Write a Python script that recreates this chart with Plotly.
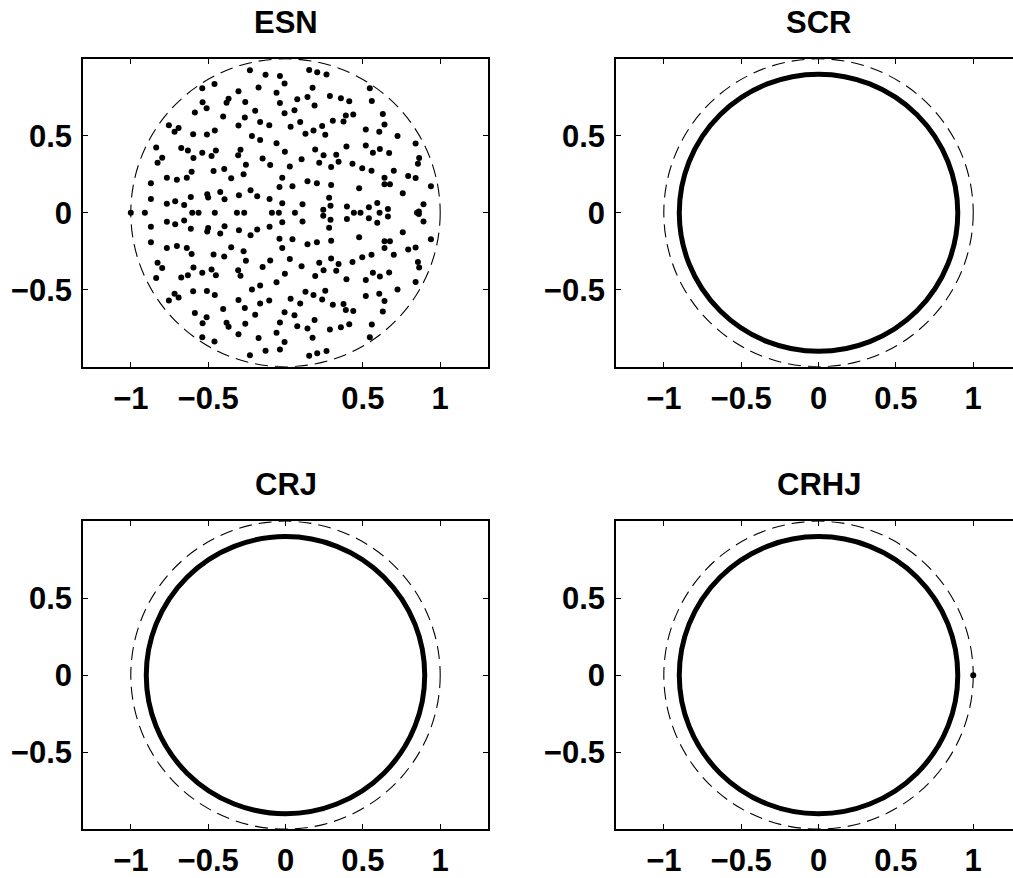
import plotly.graph_objects as go

# ---------------- data ----------------
titles = ["ESN", "SCR", "CRJ", "CRHJ"]

# ESN eigenvalues, upper half-plane (imag > 0); the lower half are the complex conjugates
esn_re_upper = [-0.23, -0.129, -0.036, -0.006, 0.153, 0.205, 0.265, -0.174, 0.175, -0.459,
                -0.538, 0.545, -0.304, -0.058, 0.142, 0.076, 0.287, 0.358, 0.412, -0.036,
                0.558, -0.536, -0.510, -0.381, -0.368, -0.260, 0.188, 0.058, -0.196, -0.006,
                0.629, -0.586, -0.403, -0.263, 0.390, 0.438, 0.095, -0.164, 0.306, 0.375,
                -0.754, -0.717, -0.691, -0.304, -0.105, 0.033, 0.237, 0.181, 0.129, 0.257,
                -0.457, -0.597, -0.508, -0.217, -0.164, -0.058, 0.519, 0.606, 0.640, 0.724,
                -0.836, -0.797, -0.827, -0.674, -0.631, -0.595, -0.538, -0.478, -0.450, -0.291,
                -0.306, -0.004, -0.148, 0.104, 0.192, 0.246, 0.218, 0.328, 0.343, 0.295,
                0.394, 0.519, 0.565, 0.610, 0.670, 0.841, 0.864, 0.856, -0.256, -0.099,
                0.028, 0.433, 0.496, 0.556, 0.700, 0.793, 0.841, 0.940, -0.870, -0.870,
                -0.767, -0.702, -0.638, -0.607, -0.396, -0.465, -0.351, -0.271, -0.021, 0.045,
                -0.039, 0.142, 0.203, 0.295, 0.640, 0.640, 0.675, 0.476, 0.758, -0.226,
                -0.183, -0.301, -0.422, -0.394, -0.506, -0.500, -0.612, -0.655, -0.713, -0.767,
                -0.103, -0.021, 0.110, 0.282, 0.291, 0.244, 0.397, 0.539, 0.593, 0.662,
                0.892, 0.862]
esn_im_upper = [0.926, 0.896, 0.888, 0.840, 0.928, 0.913, 0.898, 0.814, 0.812, 0.836,
                0.808, 0.808, 0.789, 0.780, 0.752, 0.737, 0.758, 0.743, 0.724, 0.713,
                0.726, 0.717, 0.679, 0.715, 0.741, 0.720, 0.696, 0.666, 0.663, 0.646,
                0.642, 0.651, 0.625, 0.618, 0.631, 0.638, 0.590, 0.590, 0.597, 0.592,
                0.569, 0.526, 0.551, 0.566, 0.569, 0.558, 0.564, 0.534, 0.513, 0.506,
                0.534, 0.510, 0.508, 0.498, 0.472, 0.452, 0.541, 0.526, 0.573, 0.498,
                0.424, 0.358, 0.325, 0.420, 0.405, 0.355, 0.390, 0.368, 0.405, 0.409,
                0.373, 0.396, 0.353, 0.347, 0.411, 0.373, 0.325, 0.377, 0.332, 0.297,
                0.431, 0.437, 0.390, 0.414, 0.388, 0.450, 0.355, 0.319, 0.312, 0.310,
                0.301, 0.319, 0.289, 0.273, 0.273, 0.239, 0.226, 0.172, 0.192, 0.090,
                0.228, 0.215, 0.228, 0.267, 0.284, 0.271, 0.224, 0.250, 0.228, 0.172,
                0.168, 0.204, 0.192, 0.181, 0.228, 0.185, 0.185, 0.159, 0.127, 0.146,
                0.108, 0.114, 0.135, 0.088, 0.121, 0.099, 0.103, 0.051, 0.075, 0.058,
                0.090, 0.062, 0.056, 0.097, 0.045, 0.019, 0.041, 0.036, 0.064, 0.024,
                0.056, 0.008]
# ESN real eigenvalues
esn_re_real = [-1.0, -0.909, -0.603, -0.562, -0.457, -0.314, -0.267, -0.088, -0.043, 0.061,
               0.442, 0.485, 0.608, 0.850]

# spectral radius of the eigenvalue rings of the cycle reservoirs
ring_radius = {"SCR": 0.9, "CRJ": 0.9, "CRHJ": 0.9}
# isolated eigenvalue of CRHJ
crhj_extra_re = [1.0]
crhj_extra_im = [0.0]
unit_radius = 1.0

x_tickvals = [-1, -0.5, 0, 0.5, 1]
x_ticktext = ["\u22121", "\u22120.5", "0", "0.5", "1"]
esn_x_tickvals = [-1, -0.5, 0.5, 1]
esn_x_ticktext = ["\u22121", "\u22120.5", "0.5", "1"]
y_tickvals = [-0.5, 0, 0.5]
y_ticktext = ["\u22120.5", "0", "0.5"]

# ---------------- layout geometry ----------------
W, H = 1013, 878
col_px = [(83, 488), (616, 1013)]
row_px = [(59, 368), (523, 832)]
x_ranges = [[-1.309, 1.309], [-1.309, 1.257]]
y_range = [-1.0, 1.0]

FONT = "Liberation Sans, Arial, Helvetica, sans-serif"
TICK_SIZE = 31

fig = go.Figure()

# ESN points
esn_x = esn_re_upper + [v for v in esn_re_upper] + esn_re_real
esn_y = esn_im_upper + [-v for v in esn_im_upper] + [0.0] * len(esn_re_real)
fig.add_trace(go.Scatter(x=esn_x, y=esn_y, mode="markers", xaxis="x", yaxis="y",
                         marker=dict(color="black", size=6), showlegend=False,
                         hoverinfo="skip"))
# CRHJ isolated eigenvalue
fig.add_trace(go.Scatter(x=crhj_extra_re, y=crhj_extra_im, mode="markers", xaxis="x4",
                         yaxis="y4", marker=dict(color="black", size=6), showlegend=False,
                         hoverinfo="skip"))

layout = dict(width=W, height=H, margin=dict(l=0, r=0, t=0, b=0),
              paper_bgcolor="white", plot_bgcolor="white", showlegend=False)

annotations = []
shapes = []
for i, name in enumerate(titles):
    r, c = divmod(i, 2)
    sfx = "" if i == 0 else str(i + 1)
    x0p, x1p = col_px[c]
    y0p, y1p = row_px[r]
    xdom = [x0p / W, x1p / W]
    ydom = [1 - y1p / H, 1 - y0p / H]
    tv, tt = (esn_x_tickvals, esn_x_ticktext) if i == 0 else (x_tickvals, x_ticktext)
    layout["xaxis" + sfx] = dict(
        domain=xdom, range=x_ranges[c], anchor="y" + sfx, tickmode="array",
        tickvals=tv, ticktext=tt, ticks="inside", ticklen=5, tickwidth=1.2,
        tickcolor="black", showline=True, linecolor="black", linewidth=1.6,
        mirror="ticks", showgrid=False, zeroline=False, fixedrange=True,
        tickfont=dict(family=FONT, size=TICK_SIZE, color="black", weight="bold"),
        ticklabelstandoff=3)
    layout["yaxis" + sfx] = dict(
        domain=ydom, range=y_range, anchor="x" + sfx, tickmode="array",
        tickvals=y_tickvals, ticktext=y_ticktext, ticks="inside", ticklen=5,
        tickwidth=1.2, tickcolor="black", showline=True, linecolor="black",
        linewidth=1.6, mirror="ticks" if c == 0 else False, showgrid=False,
        zeroline=False, fixedrange=True,
        tickfont=dict(family=FONT, size=TICK_SIZE, color="black", weight="bold"),
        ticklabelstandoff=3)
    annotations.append(dict(text="<b>%s</b>" % name, xref="paper", yref="paper",
                            x=(xdom[0] + xdom[1]) / 2 if c == 0 else ((x0p + 1021) / 2) / W,
                            y=1 - (y0p - 36.5) / H, xanchor="center", yanchor="middle",
                            showarrow=False,
                            font=dict(family=FONT, size=31, color="black")))
    # dashed unit circle
    shapes.append(dict(type="circle", xref="x" + sfx, yref="y" + sfx,
                       x0=-unit_radius, x1=unit_radius, y0=-unit_radius, y1=unit_radius,
                       line=dict(color="black", width=1.1, dash="13px,7px"), layer="above"))
    if name in ring_radius:
        rr = ring_radius[name]
        shapes.append(dict(type="circle", xref="x" + sfx, yref="y" + sfx,
                           x0=-rr, x1=rr, y0=-rr, y1=rr,
                           line=dict(color="black", width=5), layer="above"))

layout["annotations"] = annotations
layout["shapes"] = shapes
fig.update_layout(**layout)

fig.write_html("out.html")
